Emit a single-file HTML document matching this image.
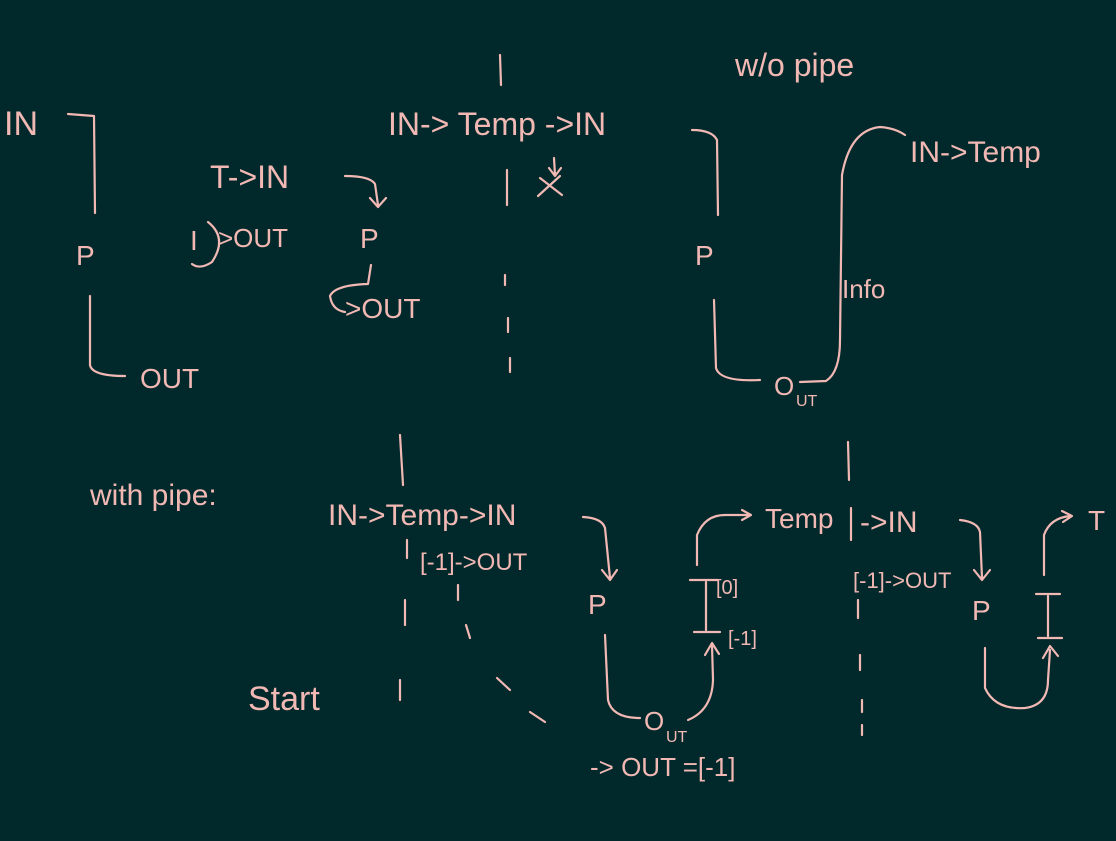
<!DOCTYPE html>
<html><head><meta charset="utf-8"><style>
html,body{margin:0;padding:0;background:#01292b;}
svg{display:block}
text{font-family:"Liberation Sans",sans-serif;fill:#f2b8b4;font-weight:normal}
.s{fill:none;stroke:#f2b8b4;stroke-width:2.2;stroke-linecap:round;stroke-linejoin:round}
</style></head><body>
<svg width="1116" height="841" viewBox="0 0 1116 841">
<rect width="1116" height="841" fill="#01292b"/>
<g>
<text x="4" y="135" font-size="34">IN</text>
<path class="s" d="M68 114 L94 116 L95 213"/>
<text x="76" y="265" font-size="28">P</text>
<path class="s" d="M90 296 L90 365 Q92 376 125 376"/>
<text x="140" y="388" font-size="28">OUT</text>
<text x="210" y="188" font-size="32">T-&gt;IN</text>
<path class="s" d="M345 176 Q370 176 375 184 L378 205 M370 198 L378 207 L386 198"/>
<text x="190" y="250" font-size="28">I</text>
<path class="s" d="M208 222 Q228 238 212 262 Q200 270 192 264"/>
<text x="218" y="247" font-size="26">&gt;OUT</text>
<text x="360" y="248" font-size="28">P</text>
<path class="s" d="M371 265 L368 284 Q335 285 330 296 Q332 310 345 312"/>
<text x="345" y="318" font-size="28">&gt;OUT</text>
</g>
<g>
<path class="s" d="M500 55 L501 85 M507 170 L507 205 M505 275 L505 285 M508 318 L508 332 M510 358 L510 372"/>
</g>
<g>
<text x="388" y="135" font-size="32">IN-&gt; Temp -&gt;IN</text>
<path class="s" d="M554 158 L555 175 M549 168 L555 176 L561 168 M540 178 L562 195 M560 176 L538 196"/>
<path class="s" d="M692 130 Q712 130 717 140 L718 215"/>
<text x="695" y="265" font-size="28">P</text>
<path class="s" d="M714 300 L716 368 Q720 382 760 380"/>
<text x="774" y="395" font-size="26">O</text>
<text x="796" y="406" font-size="16">UT</text>
<path class="s" d="M800 382 L826 381 Q840 372 840 340 L842 175 Q850 130 880 127 Q895 128 905 135"/>
<text x="910" y="162" font-size="30">IN-&gt;Temp</text>
<text x="842" y="298" font-size="26">Info</text>
<text x="735" y="76" font-size="32">w/o pipe</text>
</g>
<g>
<text x="90" y="505" font-size="30">with pipe:</text>
<path class="s" d="M400 435 L403 485 M407 540 L407 558 M405 600 L405 625 M400 680 L400 700"/>
<text x="328" y="525" font-size="30">IN-&gt;Temp-&gt;IN</text>
<path class="s" d="M583 517 Q602 518 605 528 L610 578 M602 570 L610 580 L617 570"/>
<text x="420" y="570" font-size="24">[-1]-&gt;OUT</text>
<path class="s" d="M458 585 L458 600 M466 625 L470 638 M497 678 L510 690 M530 712 L545 722"/>
<text x="248" y="710" font-size="34">Start</text>
<text x="588" y="614" font-size="28">P</text>
<path class="s" d="M605 635 L608 700 Q612 718 640 718"/>
<text x="644" y="730" font-size="26">O</text>
<text x="666" y="742" font-size="16">UT</text>
<path class="s" d="M688 720 Q712 710 713 680 L712 645 M705 655 L712 643 L719 654"/>
<path class="s" d="M690 580 L718 580 M706 582 L706 630 M694 632 L720 632"/>
<text x="716" y="594" font-size="20">[0]</text>
<text x="728" y="645" font-size="20">[-1]</text>
<path class="s" d="M697 565 L697 535 Q705 515 725 515 L750 515 M742 510 L751 515 L742 520"/>
<text x="765" y="528" font-size="28">Temp</text>
<path class="s" d="M848 442 L849 480 M851 508 L851 540 M858 600 L858 618 M860 655 L860 670 M862 700 L862 712 M862 725 L862 735"/>
<text x="860" y="532" font-size="30">-&gt;IN</text>
<path class="s" d="M960 520 Q978 522 980 532 L982 578 M974 570 L982 580 L990 570"/>
<text x="853" y="588" font-size="22">[-1]-&gt;OUT</text>
<text x="590" y="776" font-size="26">-&gt; OUT =[-1]</text>
<text x="972" y="620" font-size="28">P</text>
<path class="s" d="M1036 594 L1060 594 M1048 596 L1048 636 M1038 638 L1062 638"/>
<path class="s" d="M985 648 L985 688 Q995 710 1025 708 Q1048 705 1048 680 L1050 650 M1043 658 L1050 646 L1058 656"/>
<path class="s" d="M1044 575 L1044 535 Q1050 518 1070 516 M1062 511 L1072 516 L1063 522"/>
<text x="1088" y="530" font-size="28">T</text>
</g>
</svg>
</body></html>
